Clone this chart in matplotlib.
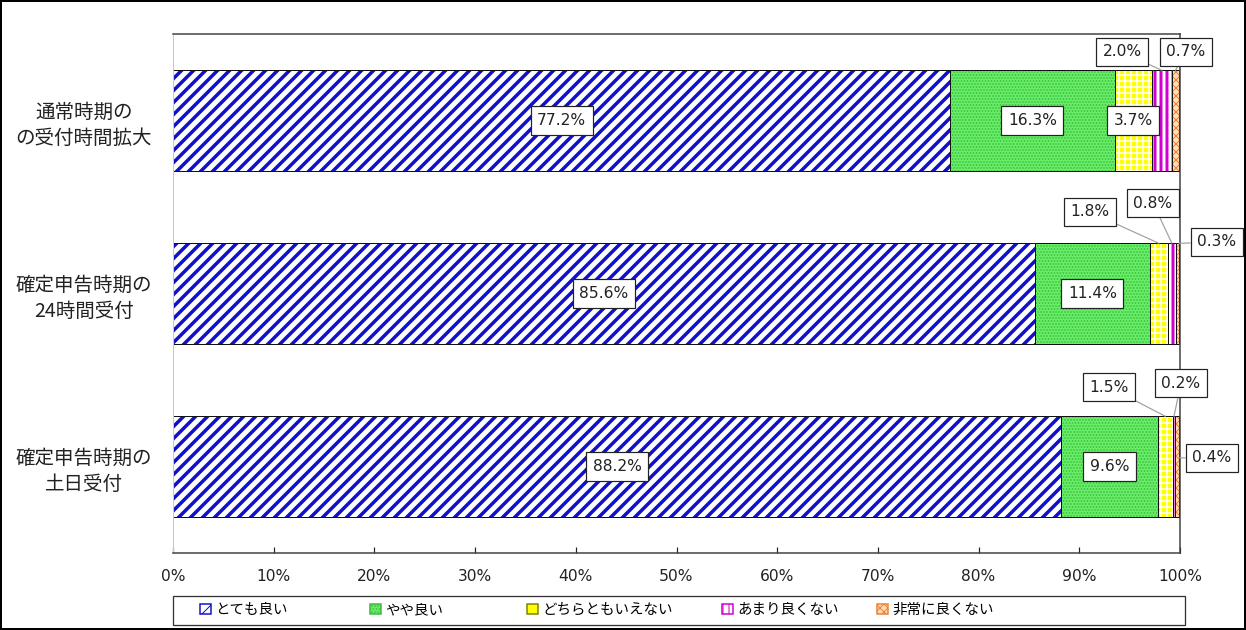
import matplotlib.pyplot as plt
from matplotlib.patches import Patch, Rectangle

plt.rcParams['font.family'] = ['Noto Sans CJK JP', 'DejaVu Sans']

# data
categories = ['通常時期の\nの受付時間拡大', '確定申告時期の\n24時間受付', '確定申告時期の\n土日受付']
series_names = ['とても良い', 'やや良い', 'どちらともいえない', 'あまり良くない', '非常に良くない']
very_good = [77.2, 85.6, 88.2]
good = [16.3, 11.4, 9.6]
neutral = [3.7, 1.8, 1.5]
bad = [2.0, 0.8, 0.2]
very_bad = [0.7, 0.3, 0.4]
series = [very_good, good, neutral, bad, very_bad]

# look of each series: face, hatch colour, hatch, hatch width, legend edge
styles = [
    ('white', '#1010C8', '//', 3.5, '#000080'),
    ('#66EE66', '#3FB83F', '....', 1.0, '#208020'),
    ('#FFFF00', 'white', '++', 1.5, '#808000'),
    ('white', '#D000D0', '||', 3.0, '#600060'),
    ('#FFDDB8', '#F08030', 'xxx', 1.0, '#F0A060'),
]

# small labels placed outside the bars (figure pixels, from top-left)
# key: (series, row) -> (x, y, where the leader line goes)
callouts = {
    (3, 0): (1122, 52, 'top'),
    (4, 0): (1186, 52, 'top'),
    (2, 1): (1090, 212, 'top'),
    (3, 1): (1153, 203, 'top'),
    (4, 1): (1217, 242, 'topright'),
    (2, 2): (1109, 387, 'top'),
    (3, 2): (1181, 383, 'top'),
    (4, 2): (1212, 458, 'mid'),
}
# left edge of each legend entry (figure pixels)
legend_x = [200, 370, 527, 722, 877]

W, H = 1246, 630
fig = plt.figure(figsize=(W / 72, H / 72), dpi=72)
ax = fig.add_axes([173 / W, 1 - 553 / H, 1007 / W, 519 / H])

rows = list(range(len(categories)))
bar_h = 0.58
box = dict(boxstyle='square,pad=0.42', fc='white', ec='#222222', lw=1.2)

left = [0.0] * len(rows)
handles = []
for i, vals in enumerate(series):
    face, hcol, hatch, hlw, legc = styles[i]
    with plt.rc_context({'hatch.linewidth': hlw}):
        ax.barh(rows, vals, height=bar_h, left=left, color=face,
                edgecolor=hcol, hatch=hatch, linewidth=0)
    with plt.rc_context({'hatch.linewidth': min(hlw, 2.0)}):
        handles.append(Patch(facecolor=face, edgecolor=hcol if i != 2 else legc,
                             hatch=hatch if i != 2 else None, linewidth=1.5))
    ax.barh(rows, vals, height=bar_h, left=left, fill=False,
            edgecolor='#111111', linewidth=1)

    for j, v in enumerate(vals):
        cx = left[j] + v / 2
        txt = f'{v:.1f}%'
        if (i, j) in callouts:
            px, py, where = callouts[(i, j)]
            if where == 'top':
                xy = (cx, j - bar_h / 2)
            elif where == 'topright':
                xy = (left[j] + v, j - bar_h / 2)
            else:
                xy = (left[j] + v, j - 0.05)
            ax.annotate(txt, xy=xy, xycoords='data',
                        xytext=(px, H - py), textcoords='figure pixels',
                        ha='center', va='center', fontsize=15.5,
                        family='DejaVu Sans', color='#222222', bbox=box,
                        arrowprops=dict(arrowstyle='-', color='#A0A0A0',
                                        lw=1.2, shrinkA=0, shrinkB=0),
                        annotation_clip=False)
        else:
            ax.text(cx, j, txt, ha='center', va='center', fontsize=15.5,
                    family='DejaVu Sans', color='#222222', bbox=box, zorder=5)
    left = [l + v for l, v in zip(left, vals)]

ax.set_xlim(0, 100)
ax.set_ylim(2.5, -0.5)
ticks = list(range(0, 101, 10))
ax.set_xticks(ticks, [f'{t}%' for t in ticks])
ax.tick_params(axis='x', direction='in', length=6, width=1.2, pad=16,
               labelsize=15.5, colors='#222222')
for lab in ax.get_xticklabels():
    lab.set_family('DejaVu Sans')
ax.set_yticks(rows, categories)
ax.tick_params(axis='y', length=0, pad=89, labelsize=19.5, colors='#222222')
for lab in ax.get_yticklabels():
    lab.set_ha('center')
    lab.set_multialignment('center')
    lab.set_linespacing(1.3)

for s in ['top', 'right', 'bottom']:
    ax.spines[s].set_color('#404040')
    ax.spines[s].set_linewidth(1.5)
ax.spines['left'].set_color('#C8C8C8')
ax.spines['left'].set_linewidth(1)

# legend box across the plot width, one entry at a time inside it
fig.add_artist(Rectangle((173 / W, 1 - 625 / H), 1012 / W, 29 / H,
                         transform=fig.transFigure, fill=False,
                         ec='#333333', lw=1.3))
for h, name, lx in zip(handles, series_names, legend_x):
    fig.legend([h], [name], loc='center left',
               bbox_to_anchor=(lx / W, 1 - 610 / H), frameon=False,
               fontsize=14.5, handlelength=0.75, handleheight=0.75,
               handletextpad=0.3, borderpad=0, borderaxespad=0)

fig.patch.set_edgecolor('black')
fig.patch.set_linewidth(4)

fig.savefig('out.png', dpi=72, facecolor='white', edgecolor='black')
